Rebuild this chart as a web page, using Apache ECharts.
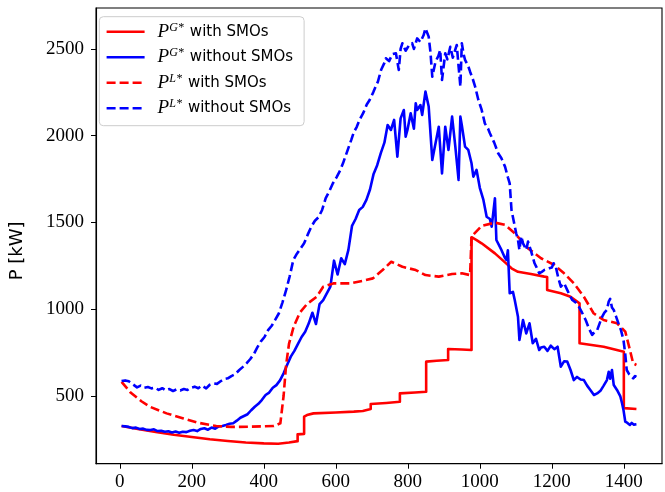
<!DOCTYPE html>
<html><head><meta charset="utf-8">
<script src="https://cdn.jsdelivr.net/npm/echarts@6/dist/echarts.min.js"></script>
<style>html,body{margin:0;padding:0;background:#fff}#c{width:665px;height:492px}</style>
</head><body><div id="c"></div>
<script>
// ---- tick labels ----
const xTicks = [0, 200, 400, 600, 800, 1000, 1200, 1400];
const yTicks = [500, 1000, 1500, 2000, 2500];

// ---- P^G* with SMOs (red solid) ----
const rsX = [5, 50, 100, 150, 200, 250, 300, 350, 400, 440, 470, 494, 494, 512, 512, 520, 538, 600, 650, 675, 697, 697, 740, 778, 778, 820, 851, 851, 880, 912, 912, 950, 977, 977, 990, 1005, 1042, 1070, 1088, 1106, 1142, 1179, 1187, 1187, 1225, 1252, 1277, 1277, 1344, 1400, 1400, 1435];
const rsY = [327, 310, 293, 277, 264, 251, 241, 232, 227, 225, 232, 240, 279, 282, 381, 390, 400, 405, 410, 414, 425, 454, 460, 467, 515, 520, 525, 698, 703, 708, 771, 768, 765, 1415, 1400, 1380, 1322, 1270, 1236, 1216, 1203, 1188, 1186, 1111, 1092, 1072, 1034, 804, 784, 755, 430, 425];

// ---- P^G* without SMOs (blue solid) ----
const bsX = [5,15,25,35,45,55,65,75,85,95,105,115,125,135,145,155,165,175,185,195,205,215,225,235,245,255,265,275,285,295,305,315,325,335,345,355,365,375,385,395,405,415,425,435,445,455,465,475,485,495,505,515,525,535,545,555,565,575,585,595,605,615,625,635,645,655,665,675,685,695,705,715,725,735,744,753,762,771,780,789,794,799,808,817,822,826,835,840,849,858,868,877,886,895,904,913,923,932,941,946,950,959,968,977,982,991,1000,1010,1019,1028,1033,1042,1046,1060,1069,1074,1078,1083,1092,1097,1106,1110,1120,1129,1138,1147,1156,1165,1170,1179,1188,1197,1207,1216,1225,1234,1243,1252,1261,1270,1280,1289,1298,1307,1317,1326,1335,1344,1353,1358,1362,1367,1372,1381,1390,1395,1399,1404,1410,1417,1422,1428,1435];
const bsY = [327,325,322,315,318,310,312,305,304,308,298,300,294,297,290,295,288,294,292,300,304,298,310,314,306,318,312,325,327,333,340,343,358,375,385,395,418,438,455,478,506,520,548,563,590,631,680,727,760,800,840,870,919,980,915,1030,1053,1092,1130,1280,1200,1294,1260,1342,1480,1520,1572,1590,1630,1690,1780,1830,1900,1960,2062,2033,2091,1879,2100,2148,1995,2033,2129,2040,2187,2148,2177,2120,2254,2168,1860,1956,2052,1783,2052,1918,2110,1937,1745,2110,2060,1937,1918,1841,1764,1803,1700,1630,1533,1520,1476,1640,1399,1342,1300,1284,1340,1092,1100,1053,957,823,938,861,919,804,830,765,780,784,760,790,770,784,669,700,698,650,592,610,595,592,560,535,506,515,530,560,592,640,600,650,563,535,500,458,420,352,345,333,345,335,337];

// ---- P^L* with SMOs (red dashed) ----
const rdX = [5,30,60,84,130,177,220,268,310,360,428,446,455,462,470,483,500,520,547,565,593,639,675,703,730,754,785,822,849,886,923,950,973,977,1005,1042,1070,1097,1134,1170,1207,1234,1261,1289,1316,1344,1381,1404,1417,1426,1435];
const rdY = [582,520,470,438,400,371,345,327,322,323,327,343,500,680,800,900,980,1030,1072,1130,1149,1149,1164,1178,1226,1274,1245,1226,1197,1188,1203,1207,1197,1420,1480,1499,1486,1438,1351,1294,1255,1207,1150,1072,977,938,919,871,765,688,679];

// ---- P^L* without SMOs (blue dashed) ----
const bdX = [5,15,25,35,48,58,68,78,88,98,108,118,128,138,148,158,168,178,188,198,208,218,228,240,250,260,270,280,290,300,310,320,332,342,352,362,372,382,392,402,412,422,432,442,452,462,472,482,492,502,512,522,532,542,552,562,572,582,592,602,612,620,630,643,650,658,666,676,686,694,704,712,717,726,735,739,748,757,767,775,780,785,794,803,812,817,826,835,844,849,858,863,868,877,885,890,895,904,910,918,925,931,936,941,946,950,955,959,968,973,980,987,996,1005,1014,1023,1028,1040,1051,1060,1070,1078,1083,1088,1095,1101,1106,1110,1115,1120,1125,1129,1134,1138,1143,1152,1158,1165,1172,1179,1186,1193,1200,1205,1211,1218,1225,1234,1243,1250,1257,1266,1275,1284,1294,1303,1312,1319,1326,1333,1340,1346,1353,1358,1362,1367,1372,1378,1385,1392,1399,1404,1408,1415,1420,1426,1431,1435];
const bdY = [586,590,585,570,550,560,548,552,544,548,535,545,532,540,529,538,532,540,535,548,554,545,560,544,565,573,570,585,598,602,615,625,650,668,688,712,740,780,815,840,880,905,940,977,1040,1110,1190,1284,1320,1350,1380,1430,1476,1510,1530,1572,1640,1680,1726,1760,1800,1841,1900,1976,2020,2050,2091,2130,2180,2206,2250,2290,2312,2380,2420,2446,2430,2470,2475,2379,2500,2533,2490,2520,2533,2500,2561,2540,2580,2619,2571,2480,2340,2427,2460,2494,2321,2475,2440,2513,2450,2490,2523,2400,2283,2533,2470,2437,2400,2369,2330,2283,2206,2150,2071,2040,2014,1960,1899,1870,1822,1760,1726,1572,1500,1438,1400,1342,1420,1380,1360,1342,1390,1399,1330,1265,1240,1207,1215,1226,1230,1236,1240,1265,1245,1180,1130,1150,1110,1080,1053,1040,1015,980,938,890,852,870,880,920,957,980,996,1044,1060,1010,996,960,919,880,823,740,650,625,620,602,615,610];

function pairs(xs, ys) { return xs.map((x, i) => [x, ys[i]]); }

const legendMap = {
  'PG with': { sup: 'G*', text: 'with SMOs' },
  'PG without': { sup: 'G*', text: 'without SMOs' },
  'PL with': { sup: 'L*', text: 'with SMOs' },
  'PL without': { sup: 'L*', text: 'without SMOs' }
};

const chart = echarts.init(document.getElementById('c'), null, { renderer: 'canvas' });
const serif = "'Liberation Serif', 'DejaVu Serif', serif";
const sans = "'DejaVu Sans', sans-serif";
const LW = 2.6;
function mkSeries(name, xs, ys, color, dashed) {
  return {
    name: name, type: 'line', data: pairs(xs, ys), symbol: 'none', showSymbol: false,
    lineStyle: { color: color, width: LW, type: dashed ? [9, 4] : 'solid', cap: 'butt', join: 'round' },
    itemStyle: { color: color },
    emphasis: { disabled: true }, animation: false
  };
}
chart.setOption({
  animation: false,
  grid: { left: 90.3, right: 3, top: 8, bottom: 28.3, show: true, borderColor: '#000', borderWidth: 1.1, backgroundColor: 'transparent' },
  xAxis: {
    type: 'value', min: -66, max: 1506,
    splitLine: { show: false },
    axisLine: { show: true, onZero: false, lineStyle: { color: '#000', width: 1.1 } },
    axisTick: { show: true, customValues: xTicks, length: 5, inside: false, lineStyle: { color: '#000', width: 1 } },
    axisLabel: { customValues: xTicks, margin: 9, color: '#000', fontFamily: serif, fontSize: 19, formatter: v => String(v) }
  },
  yAxis: {
    type: 'value', min: 110, max: 2736,
    name: 'P [kW]', nameLocation: 'middle', nameGap: 70, nameRotate: 90,
    nameTextStyle: { fontFamily: sans, fontSize: 18, color: '#000', padding: [0, 30, 0, 0] },
    splitLine: { show: false },
    axisLine: { show: true, onZero: false, lineStyle: { color: '#000', width: 1.1 } },
    axisTick: { show: true, customValues: yTicks, length: 5, inside: false, lineStyle: { color: '#000', width: 1 } },
    axisLabel: { customValues: yTicks, margin: 12, color: '#000', fontFamily: serif, fontSize: 19, formatter: v => String(v) }
  },
  legend: {
    show: true, orient: 'vertical', left: 99.3, top: 16.7,
    padding: [5, 11, 8, 6], itemGap: 6, itemWidth: 38, itemHeight: 14,
    backgroundColor: 'rgba(255,255,255,0.8)', borderColor: '#cccccc', borderWidth: 1, borderRadius: 4,
    selectedMode: false,
    itemStyle: { opacity: 0 },
    lineStyle: { width: LW },
    data: ['PG with', 'PG without', 'PL with', 'PL without'],
    formatter: function (name) {
      const m = legendMap[name];
      return '{sp|}{p|P}{sup|' + m.sup + '}{t|' + m.text + '}';
    },
    textStyle: {
      color: '#000',
      rich: {
        sp: { width: 8, lineHeight: 20 },
        p: { fontFamily: serif, fontStyle: 'italic', fontSize: 19, lineHeight: 20, color: '#000' },
        sup: { fontFamily: serif, fontStyle: 'italic', fontSize: 12, lineHeight: 11, verticalAlign: 'top', color: '#000' },
        t: { fontFamily: sans, fontSize: 15, lineHeight: 20, padding: [0, 0, 0, 6], color: '#000' }
      }
    }
  },
  series: [
    mkSeries('PG with', rsX, rsY, '#ff0000', false),
    mkSeries('PG without', bsX, bsY, '#0000ff', false),
    mkSeries('PL with', rdX, rdY, '#ff0000', true),
    mkSeries('PL without', bdX, bdY, '#0000ff', true)
  ]
});
</script></body></html>
